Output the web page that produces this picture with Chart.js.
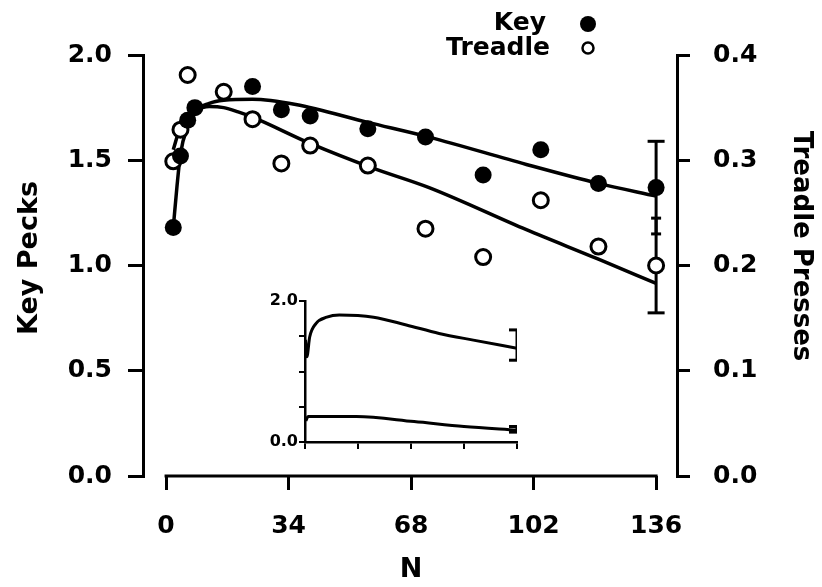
<!DOCTYPE html>
<html>
<head>
<meta charset="utf-8">
<script src="https://cdn.jsdelivr.net/npm/chart.js@4/dist/chart.umd.min.js"></script>
<style>
  html, body { margin: 0; padding: 0; background: #fff; }
  #wrap { position: relative; width: 822px; height: 587px; }
  #main { position: absolute; left: 0; top: 0; }
  #inset { position: absolute; left: 250px; top: 285px; }
</style>
</head>
<body>
<div id="wrap">
  <canvas id="main" width="822" height="587"></canvas>
  <canvas id="inset" width="280" height="185"></canvas>
</div>
<script>
// tick labels
const xTicks = [0, 34, 68, 102, 136];
const keyTicks = [0, 0.5, 1, 1.5, 2];
const treadleTicks = [0, 0.1, 0.2, 0.3, 0.4];

// observed points
const keyN = [2, 4, 6, 8, 24, 32, 40, 56, 72, 88, 104, 120, 136];
const keyPecks = [1.18, 1.52, 1.69, 1.75, 1.85, 1.74, 1.71, 1.65, 1.61, 1.43, 1.55, 1.39, 1.37];
const treadleN = [2, 4, 6, 16, 24, 32, 40, 56, 72, 88, 104, 120, 136];
const treadlePresses = [0.299, 0.329, 0.381, 0.365, 0.339, 0.297, 0.314, 0.295, 0.235, 0.208, 0.262, 0.218, 0.200];

// fitted curves
const keyFitN = [2, 3, 4, 6, 8, 12, 16, 24, 36, 56, 73, 100, 120, 136];
const keyFit = [1.18, 1.37, 1.53, 1.66, 1.73, 1.77, 1.785, 1.79, 1.765, 1.68, 1.61, 1.48, 1.39, 1.33];
const treadleFitN = [2, 4, 6, 8, 12, 16, 20, 24, 40, 57, 73, 100, 120, 136];
const treadleFit = [0.31, 0.332, 0.342, 0.347, 0.351, 0.350, 0.346, 0.341, 0.316, 0.293, 0.274, 0.234, 0.206, 0.183];

// error bars at the last session
const errN = 136;
const keyErr = [1.15, 1.59];
const treadleErr = [0.155, 0.245];

// inset
const insetTicks = [0, 0.5, 1, 1.5, 2];
const insetKeyN = [0.3, 1.2, 3, 7, 14, 22, 44, 65, 86, 108, 136];
const insetKey = [1.45, 1.21, 1.49, 1.68, 1.77, 1.80, 1.77, 1.66, 1.54, 1.445, 1.33];
const insetTreadleN = [0.5, 2, 33, 70, 102, 136];
const insetTreadle = [0.30, 0.36, 0.36, 0.29, 0.22, 0.17];
const insetKeyErr = [1.16, 1.59];
const insetTreadleErr = [0.14, 0.22];

const FONT = '"DejaVu Sans", sans-serif';
Chart.defaults.font.family = FONT;
Chart.defaults.font.weight = 'bold';
Chart.defaults.color = '#000';

const pts = (xs, ys) => xs.map((x, i) => ({x: x, y: ys[i]}));
const fixTicks = list => scale => { scale.ticks = list.map(v => ({value: v})); };

function errBar(vals, axis, caps, w) {
    return {
        data: pts([errN, errN], vals),
        yAxisID: axis,
        showLine: true,
        borderColor: '#000',
        borderWidth: w,
        pointStyle: 'line',
        pointRadius: caps,
        pointBorderWidth: w,
        pointBorderColor: '#000'
    };
}

// axis line for N, titles and legend
const decor = {
    id: 'decor',
    afterDraw(chart) {
        const {ctx, chartArea, scales} = chart;
        ctx.save();
        ctx.strokeStyle = '#000';
        ctx.lineWidth = 3;
        ctx.beginPath();
        ctx.moveTo(scales.x.getPixelForValue(xTicks[0]) - 1.5, chartArea.bottom);
        ctx.lineTo(scales.x.getPixelForValue(xTicks[xTicks.length - 1]) + 1.5, chartArea.bottom);
        ctx.stroke();

        ctx.fillStyle = '#000';
        ctx.textBaseline = 'middle';
        ctx.textAlign = 'center';
        ctx.font = 'bold 27px ' + FONT;
        ctx.fillText('N', 411, 570);

        ctx.save();
        ctx.translate(30, 258);
        ctx.rotate(-Math.PI / 2);
        ctx.fillText('Key Pecks', 0, 0);
        ctx.restore();

        ctx.save();
        ctx.font = 'bold 26px ' + FONT;
        ctx.translate(801, 246);
        ctx.rotate(Math.PI / 2);
        ctx.fillText('Treadle Presses', 0, 0);
        ctx.restore();

        // legend
        ctx.font = 'bold 25px ' + FONT;
        ctx.textAlign = 'right';
        ctx.fillText('Key', 546, 23);
        ctx.fillText('Treadle', 550, 48);
        ctx.beginPath();
        ctx.arc(588, 24, 8, 0, Math.PI * 2);
        ctx.fill();
        ctx.beginPath();
        ctx.arc(588, 48, 5.5, 0, Math.PI * 2);
        ctx.lineWidth = 2.5;
        ctx.stroke();
        ctx.restore();
    }
};

new Chart(document.getElementById('main'), {
    type: 'scatter',
    data: {
        datasets: [
            {
                data: pts(keyN, keyPecks),
                yAxisID: 'y',
                pointRadius: 8.5,
                pointBackgroundColor: '#000',
                pointBorderWidth: 0
            },
            {
                data: pts(treadleN, treadlePresses),
                yAxisID: 'y2',
                pointRadius: 7.5,
                pointBackgroundColor: '#fff',
                pointBorderColor: '#000',
                pointBorderWidth: 3
            },
            errBar(keyErr, 'y', [5, 8.5], 3),
            errBar(treadleErr, 'y2', [8.5, 5], 3),
            {
                data: pts(keyFitN, keyFit),
                yAxisID: 'y',
                showLine: true,
                pointRadius: 0,
                borderColor: '#000',
                borderWidth: 3.5,
                cubicInterpolationMode: 'monotone'
            },
            {
                data: pts(treadleFitN, treadleFit),
                yAxisID: 'y2',
                showLine: true,
                pointRadius: 0,
                borderColor: '#000',
                borderWidth: 3.5,
                cubicInterpolationMode: 'monotone'
            }
        ]
    },
    options: {
        responsive: false,
        animation: false,
        layout: { padding: { top: 55, left: 0, right: 0, bottom: 0 } },
        plugins: { legend: { display: false }, tooltip: { enabled: false } },
        scales: {
            x: {
                type: 'linear',
                min: -6.4,
                max: 141.8,
                afterBuildTicks: fixTicks(xTicks),
                afterFit: s => { s.height = 111; },
                border: { display: false },
                grid: { drawOnChartArea: false, tickLength: 14, lineWidth: 3, color: '#000' },
                ticks: { font: { size: 25 }, padding: 21, maxRotation: 0 }
            },
            y: {
                position: 'left',
                min: 0,
                max: 2,
                afterBuildTicks: fixTicks(keyTicks),
                afterFit: s => { s.width = 143; },
                border: { display: true, width: 3, color: '#000' },
                grid: { drawOnChartArea: false, tickLength: 15, lineWidth: 3, color: '#000' },
                ticks: { font: { size: 25 }, padding: 16, callback: v => v.toFixed(1) }
            },
            y2: {
                position: 'right',
                min: 0,
                max: 0.4,
                afterBuildTicks: fixTicks(treadleTicks),
                afterFit: s => { s.width = 145; },
                border: { display: true, width: 3, color: '#000' },
                grid: { drawOnChartArea: false, tickLength: 13, lineWidth: 3, color: '#000' },
                ticks: { font: { size: 25 }, padding: 23, callback: v => v.toFixed(1) }
            }
        }
    },
    plugins: [decor]
});

//inset
new Chart(document.getElementById('inset'), {
    type: 'scatter',
    data: {
        datasets: [
            {
                data: pts([errN, errN], insetKeyErr),
                showLine: true, borderColor: '#000', borderWidth: 3,
                pointStyle: 'line', pointRadius: 8, pointBorderWidth: 3, pointBorderColor: '#000'
            },
            {
                data: pts([errN, errN], insetTreadleErr),
                showLine: true, borderColor: '#000', borderWidth: 3,
                pointStyle: 'line', pointRadius: 8, pointBorderWidth: 3, pointBorderColor: '#000'
            },
            {
                data: pts(insetKeyN, insetKey),
                showLine: true, pointRadius: 0, borderColor: '#000', borderWidth: 3,
                cubicInterpolationMode: 'monotone'
            },
            {
                data: pts(insetTreadleN, insetTreadle),
                showLine: true, pointRadius: 0, borderColor: '#000', borderWidth: 3,
                cubicInterpolationMode: 'monotone'
            }
        ]
    },
    options: {
        responsive: false,
        animation: false,
        layout: { padding: { top: 16, right: 13, left: 0, bottom: 0 } },
        plugins: { legend: { display: false }, tooltip: { enabled: false } },
        scales: {
            x: {
                type: 'linear',
                min: 0,
                max: 136,
                afterBuildTicks: fixTicks(xTicks),
                afterFit: s => { s.height = 28; },
                border: { display: true, width: 2.5, color: '#000' },
                grid: { drawOnChartArea: false, tickLength: 7, lineWidth: 2, color: '#000' },
                ticks: { callback: () => '' }
            },
            y: {
                min: 0,
                max: 2,
                afterBuildTicks: fixTicks(insetTicks),
                afterFit: s => { s.width = 55; },
                border: { display: true, width: 2.5, color: '#000' },
                grid: { drawOnChartArea: false, tickLength: 6, lineWidth: 2, color: '#000' },
                ticks: {
                    font: { size: 16 },
                    padding: 1,
                    callback: v => (v === 0 || v === 2) ? v.toFixed(1) : ''
                }
            }
        }
    }
});
</script>
</body>
</html>
